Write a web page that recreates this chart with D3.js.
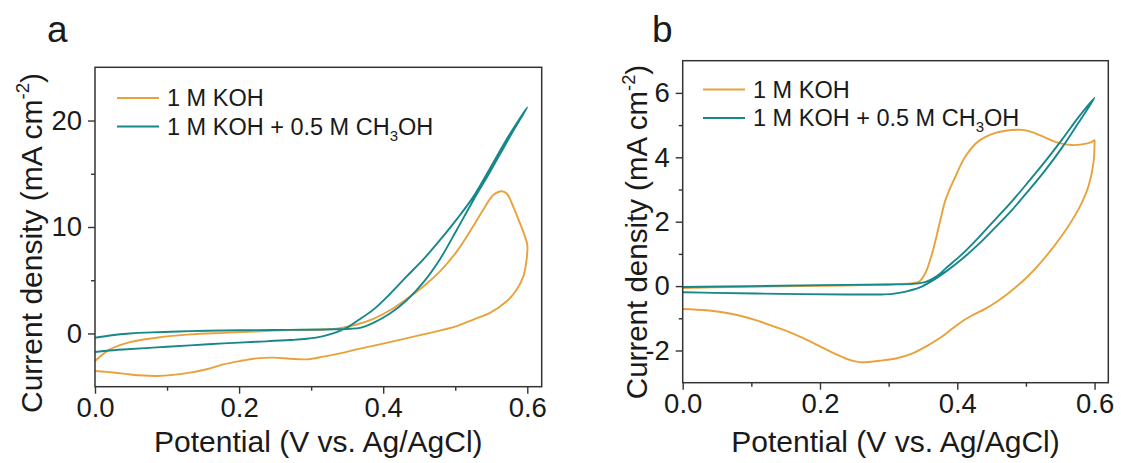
<!DOCTYPE html>
<html><head><meta charset="utf-8">
<script src="https://cdn.jsdelivr.net/npm/d3@7"></script>
<style>
body{margin:0;background:#fff}
svg{display:block}
text{font-family:"Liberation Sans",Arial,sans-serif;fill:#1a1a1a}
</style>
</head><body>
<svg id="c" width="1121" height="463"></svg>
<script>
// ---------- data ----------
const xTickValues = [0, 0.2, 0.4, 0.6];
const xMinorValues = [0.1, 0.3, 0.5];
const aYTickValues = [0, 10, 20];
const aYMinorValues = [5, 15];
const bYTickValues = [-2, 0, 2, 4, 6];
const bYMinorValues = [-1, 1, 3, 5];
const xTitle = "Potential (V vs. Ag/AgCl)";
const seriesNames = ["1 M KOH", "1 M KOH + 0.5 M CH3OH"];
const panelLetters = ["a", "b"];

// panel a, 1 M KOH (potential V, current mA cm-2)
const aKOH = [[0,-2.59],[0.0208,-1.5],[0.0486,-0.81],[0.0856,-0.4],[0.1319,-0.09],[0.1781,0.06],[0.2244,0.19],[0.2706,0.31],[0.3169,0.37],[0.34,0.5],[0.3632,0.84],[0.3863,1.37],[0.4094,2.18],[0.4326,3.24],[0.4557,4.42],[0.4788,5.83],[0.502,7.69],[0.5251,10.09],[0.539,11.65],[0.5529,13.0],[0.5644,13.36],[0.5714,13.15],[0.5806,11.9],[0.5899,10.34],[0.5968,9.1],[0.6,8.32],[0.599,6.92],[0.5945,5.36],[0.5852,4.11],[0.5714,3.02],[0.5482,1.93],[0.5251,1.31],[0.502,0.69],[0.4557,-0.09],[0.4094,-0.81],[0.3632,-1.5],[0.34,-1.87],[0.3169,-2.18],[0.2938,-2.43],[0.2706,-2.37],[0.2475,-2.27],[0.2244,-2.34],[0.2012,-2.59],[0.1781,-2.9],[0.155,-3.36],[0.1319,-3.68],[0.1087,-3.89],[0.0856,-3.99],[0.0625,-3.93],[0.0393,-3.77],[0.0162,-3.61],[0,-3.52]];
// panel a, 1 M KOH + 0.5 M CH3OH
const aMeOH = [[0,-0.4],[0.0208,-0.19],[0.0486,0],[0.0856,0.12],[0.1319,0.22],[0.1781,0.28],[0.2244,0.31],[0.2706,0.34],[0.3169,0.37],[0.354,0.44],[0.3678,0.53],[0.3863,1.0],[0.4094,1.87],[0.4326,3.12],[0.4557,4.8],[0.4788,6.98],[0.502,9.72],[0.5251,12.52],[0.5482,15.17],[0.576,18.5],[0.6,21.25],[0.576,18.75],[0.548,15.48],[0.525,12.83],[0.502,10.72],[0.479,8.79],[0.456,6.98],[0.4326,5.36],[0.4094,3.71],[0.3863,2.24],[0.3632,1.15],[0.349,0.53],[0.3354,0.12],[0.3169,-0.25],[0.2938,-0.5],[0.2706,-0.62],[0.2244,-0.78],[0.1781,-0.93],[0.1319,-1.12],[0.0856,-1.31],[0.0393,-1.5],[0.0162,-1.62],[0,-1.74]];
// panel b, 1 M KOH
const bKOH = [[0,-0.06],[0.0445,-0.04],[0.1413,-0.01],[0.238,0.02],[0.3106,0.06],[0.3348,0.09],[0.3445,0.14],[0.3541,0.43],[0.3638,1.05],[0.3735,1.88],[0.3832,2.7],[0.3977,3.42],[0.4122,4.04],[0.4315,4.51],[0.4557,4.76],[0.4799,4.85],[0.4944,4.85],[0.509,4.78],[0.5283,4.61],[0.5477,4.45],[0.567,4.38],[0.5815,4.4],[0.596,4.48],[0.6,4.53],[0.6,4.45],[0.5985,3.84],[0.5912,3.11],[0.5767,2.39],[0.5525,1.57],[0.5283,0.9],[0.5041,0.33],[0.4799,-0.13],[0.4606,-0.44],[0.4412,-0.7],[0.4219,-0.91],[0.4074,-1.09],[0.3929,-1.32],[0.3735,-1.63],[0.3541,-1.88],[0.3348,-2.09],[0.3106,-2.25],[0.2864,-2.32],[0.2574,-2.36],[0.24,-2.27],[0.22,-2.08],[0.2,-1.87],[0.18,-1.66],[0.16,-1.47],[0.135,-1.27],[0.11,-1.08],[0.085,-0.93],[0.06,-0.82],[0.035,-0.75],[0,-0.71]];
// panel b, 1 M KOH + 0.5 M CH3OH
const bMeOH = [[0,-0.03],[0.1,0],[0.2,0.03],[0.3,0.05],[0.335,0.07],[0.3541,0.13],[0.3735,0.36],[0.3832,0.55],[0.4074,1.0],[0.4315,1.52],[0.4557,2.08],[0.4799,2.64],[0.5041,3.25],[0.5283,3.88],[0.5525,4.55],[0.5767,5.25],[0.6,5.85],[0.5767,5.08],[0.5525,4.3],[0.5283,3.6],[0.5041,2.97],[0.4799,2.37],[0.4557,1.83],[0.4315,1.31],[0.4074,0.85],[0.3832,0.45],[0.3638,0.17],[0.3445,-0.05],[0.3251,-0.17],[0.3058,-0.24],[0.2864,-0.26],[0.238,-0.26],[0.1413,-0.24],[0.0445,-0.21],[0,-0.19]];

// ---------- layout ----------
const colors = ["#E9A23B", "#17878A"];
const panels = [
  {letter: panelLetters[0], lx: 47, ly: 42, left: 95, right: 541.7, top: 67.3, bottom: 386.7, yDomain: [-5, 25],
   yTicks: aYTickValues, yMinor: aYMinorValues, series: [aKOH, aMeOH],
   ytX: 42, ytY: 243, ytSize: 30, legX: 117, legY: 98},
  {letter: panelLetters[1], lx: 652, ly: 42, left: 682.7, right: 1108.3, top: 60.7, bottom: 382.7, yDomain: [-3, 7],
   yTicks: bYTickValues, yMinor: bYMinorValues, series: [bKOH, bMeOH],
   ytX: 647, ytY: 232, ytSize: 29.5, legX: 703, legY: 89.5}
];

const svg = d3.select("#c");

panels.forEach(p => {
  const x = d3.scaleLinear().domain([0, 0.62]).range([p.left, p.right]);
  const y = d3.scaleLinear().domain(p.yDomain).range([p.bottom, p.top]);
  const g = svg.append("g");

  // curves
  const line = d3.line().x(d => x(d[0])).y(d => y(d[1])).curve(d3.curveCatmullRom.alpha(0.5));
  p.series.forEach((s, i) => {
    g.append("path").attr("d", line(s)).attr("fill", "none")
      .attr("stroke", colors[i]).attr("stroke-width", 1.9).attr("stroke-linejoin", "round");
  });

  // axes
  const ax = g.append("g").attr("transform", `translate(0,${p.bottom})`)
    .call(d3.axisBottom(x).tickValues(xTickValues).tickFormat(d3.format(".1f")).tickSize(7).tickPadding(4));
  const axm = g.append("g").attr("transform", `translate(0,${p.bottom})`)
    .call(d3.axisBottom(x).tickValues(xMinorValues).tickFormat("").tickSize(4));
  const ay = g.append("g").attr("transform", `translate(${p.left},0)`)
    .call(d3.axisLeft(y).tickValues(p.yTicks).tickFormat(d => String(d)).tickSize(7).tickPadding(6));
  const aym = g.append("g").attr("transform", `translate(${p.left},0)`)
    .call(d3.axisLeft(y).tickValues(p.yMinor).tickFormat("").tickSize(4));
  [ax, axm, ay, aym].forEach(a => {
    a.select(".domain").remove();
    a.selectAll("line").attr("stroke", "#333").attr("stroke-width", 1.4);
    a.selectAll("text").attr("font-size", 27.5).attr("font-family", "Liberation Sans, Arial, sans-serif").attr("fill", "#1a1a1a");
  });

  // frame
  g.append("rect").attr("x", p.left).attr("y", p.top)
    .attr("width", p.right - p.left).attr("height", p.bottom - p.top)
    .attr("fill", "none").attr("stroke", "#333").attr("stroke-width", 1.5);

  // x title
  g.append("text").attr("x", (p.left + p.right) / 2).attr("y", 452)
    .attr("text-anchor", "middle").attr("font-size", 30).text(xTitle);

  // y title
  const yt = g.append("text").attr("transform", `translate(${p.ytX},${p.ytY}) rotate(-90)`)
    .attr("text-anchor", "middle").attr("font-size", p.ytSize);
  yt.append("tspan").text("Current density (mA cm");
  yt.append("tspan").attr("font-size", p.ytSize * 0.62).attr("dy", -p.ytSize * 0.42).text("-2");
  yt.append("tspan").attr("dy", p.ytSize * 0.42).text(")");

  // panel letter
  g.append("text").attr("x", p.lx).attr("y", p.ly).attr("font-size", 37).text(p.letter);

  // legend
  seriesNames.forEach((name, i) => {
    const ly = p.legY + i * 28.5;
    g.append("line").attr("x1", p.legX).attr("x2", p.legX + 42).attr("y1", ly).attr("y2", ly)
      .attr("stroke", colors[i]).attr("stroke-width", 1.9);
    const t = g.append("text").attr("x", p.legX + 50).attr("y", ly + 8).attr("font-size", 23.5);
    const m = name.match(/^(.*CH)(3)(OH)$/);
    if (m) {
      t.append("tspan").text(m[1]);
      t.append("tspan").attr("font-size", 15).attr("dy", 6).text(m[2]);
      t.append("tspan").attr("dy", -6).text(m[3]);
    } else {
      t.text(name);
    }
  });
});
</script>
</body></html>
